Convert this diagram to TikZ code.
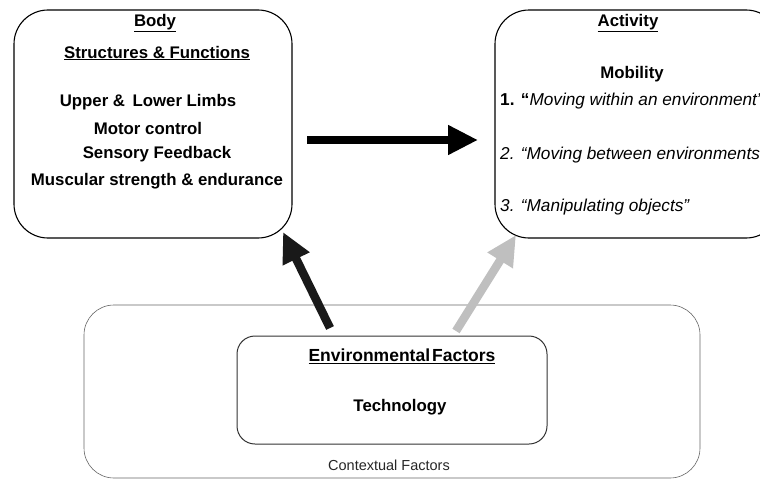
\documentclass[tikz,border=0pt]{standalone}
\usepackage{fontspec}
\setmainfont{Liberation Sans}
\usetikzlibrary{arrows.meta}
\begin{document}
\begin{tikzpicture}[x=1pt,y=-1pt,
  box/.style={draw, rounded corners=34pt, line width=1.1pt},
  ctx/.style={draw=black!60, rounded corners=30pt, line width=0.6pt},
  env/.style={draw=black!80, rounded corners=18pt, line width=1pt},
  txt/.style={font=\bfseries\fontsize{16.8}{18}\selectfont, inner sep=0pt, anchor=center},
  itxt/.style={font=\itshape\fontsize{17.2}{18}\selectfont, inner sep=0pt, anchor=west},
  bigarrow/.style={line width=8pt, -{Triangle[length=30pt,width=28pt]}},
]
\useasboundingbox (0,0) rectangle (760,479);
% boxes
\draw[box] (14,10) rectangle (292,238);
\draw[box] (495,10) rectangle (780,238);
\draw[ctx] (84,305) rectangle (700,478);
\draw[env] (237,336) rectangle (547,444);
% body texts
\node[txt] (t1) at (155,23) {\underline{Body}};
\node[txt] (t2) at (157,53) {\underline{Structures \& Functions}};
\node[txt] (t3) at (148,102) {Upper \&\, Lower Limbs};
\node[txt] (t4) at (148,128) {Motor control};
\node[txt] (t5) at (157,154) {Sensory Feedback};
\node[txt] (t6) at (157,181) {Muscular strength \& endurance};
% activity texts
\node[txt] (a1) at (628,23) {\underline{Activity}};
\node[txt] (a2) at (632,74) {Mobility};
\node[itxt] (a3) at (500,101) {\textbf{\upshape 1. ``}Moving within an environment''};
\node[itxt] (a4) at (500,155) {2. ``Moving between environments''};
\node[itxt] (a5) at (500,207) {3. ``Manipulating objects''};
% env texts
\node[font=\bfseries\fontsize{17.5}{19}\selectfont, inner sep=0pt] (e1) at (402,356) {\underline{Environmental\hspace{0.12em}Factors}};
\node[txt] (e2) at (400,407) {Technology};
\node[font=\fontsize{14.5}{16}\selectfont, inner sep=0pt, text=black!85] (c1) at (389,465) {Contextual Factors};
% arrows
\coordinate (h1) at (307,140);
\coordinate (h2) at (478,140);
\coordinate (d1s) at (330,328);
\coordinate (d1e) at (283,232);
\coordinate (d2s) at (456,331);
\coordinate (d2e) at (516,235);
\draw[bigarrow] (h1) -- (h2);
\draw[bigarrow, line width=8.5pt, black!90] (d1s) -- (d1e);
\draw[bigarrow, line width=8.5pt, black!25] (d2s) -- (d2e);
\end{tikzpicture}
\end{document}
